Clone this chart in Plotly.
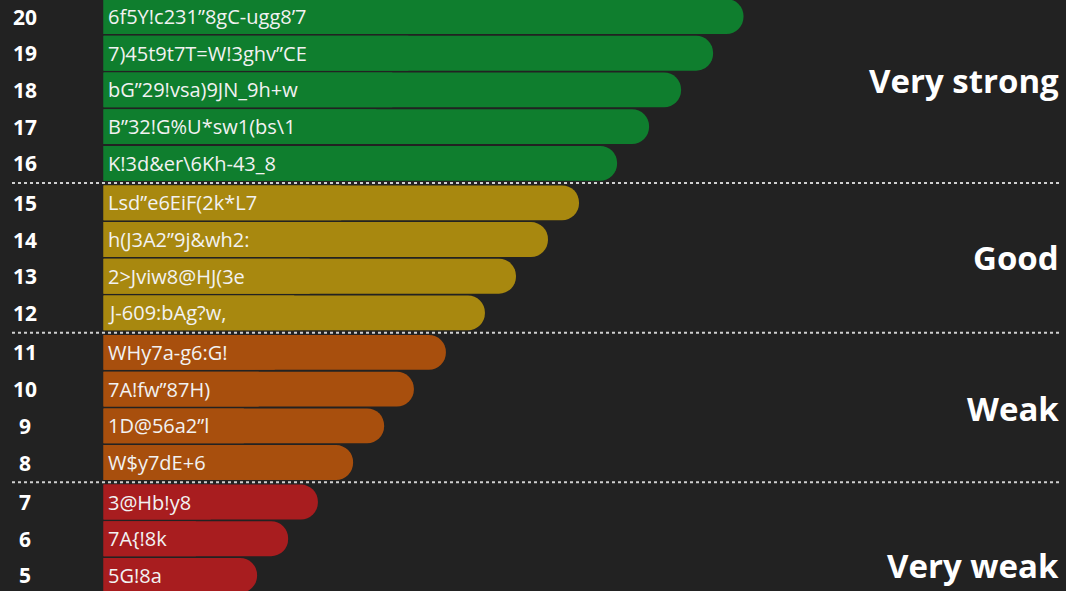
import plotly.graph_objects as go

# ---------------- data ----------------
lengths = [20, 19, 18, 17, 16, 15, 14, 13, 12, 11, 10, 9, 8, 7, 6, 5]
passwords = [
    "6f5Y!c231\u201d8gC-ugg8\u20197",
    "7)45t9t7T=W!3ghv\u201dCE",
    "bG\u201d29!vsa)9JN_9h+w",
    "B\u201d32!G%U*sw1(bs\\1",
    "K!3d&er\\6Kh-43_8",
    "Lsd\u201de6EiF(2k*L7",
    "h(J3A2\u201d9j&wh2:",
    "2>Jviw8@HJ(3e",
    "J-609:bAg?w,",
    "WHy7a-g6:G!",
    "7A!fw\u201d87H)",
    "1D@56a2\u201dl",
    "W$y7dE+6",
    "3@Hb!y8",
    "7A{!8k",
    "5G!8a",
]
scores = [20.0, 19.05, 18.05, 17.05, 16.05, 14.86, 13.89, 12.89, 11.92,
          10.70, 9.70, 8.77, 7.80, 6.70, 5.77, 4.80]
groups = ["Very strong"] * 5 + ["Good"] * 4 + ["Weak"] * 4 + ["Very weak"] * 3
group_names = ["Very strong", "Good", "Weak", "Very weak"]
group_colors = ["#0f7e2e", "#a8880f", "#a84f0d", "#a81d1f"]

# ---------------- layout constants ----------------
W, H = 1066, 591
BG = "#222222"
FONT = "Open Sans"
pitch = 36.7            # px per row
gap = 2.8               # px between group panels
x0_px = 103.5           # bar baseline pixel
px_per_unit = 32.0
x_range = [-x0_px / px_per_unit, (W - x0_px) / px_per_unit]

fig = go.Figure()
layout = dict(
    width=W, height=H, margin=dict(l=0, r=0, t=0, b=0),
    paper_bgcolor=BG, plot_bgcolor=BG, showlegend=False,
    barmode="overlay", bargap=0.05,
    font=dict(family=FONT, color="white"),
)

annotations = []
shapes = []
top_px = 0.0
first_top_val = max(lengths) + 0.45
# (pixel y, anchor) of group labels
label_pos = {"Very strong": (81, "middle"), "Good": (257, "middle"),
             "Weak": (408, "middle"), "Very weak": (590, "bottom")}

for gi, (gname, gcol) in enumerate(zip(group_names, group_colors)):
    idx = [i for i, g in enumerate(groups) if g == gname]
    ys = [lengths[i] for i in idx]
    xs = [scores[i] for i in idx]
    hi = (max(ys) + 0.5) if gi > 0 else first_top_val
    if gi < len(group_names) - 1:
        lo = min(ys) - 0.5
        bot_px = top_px + (hi - lo) * pitch
    else:
        bot_px = H
        lo = hi - (bot_px - top_px) / pitch
    sfx = "" if gi == 0 else str(gi + 1)
    xa, ya = "x" + sfx, "y" + sfx
    layout["xaxis" + sfx] = dict(range=x_range, visible=False, fixedrange=True,
                                 domain=[0, 1], anchor=ya)
    layout["yaxis" + sfx] = dict(range=[lo, hi], visible=False, fixedrange=True,
                                 domain=[max(0, 1 - bot_px / H), 1 - top_px / H],
                                 anchor=xa)
    # square base (covers left rounded corners)
    fig.add_trace(go.Bar(x=[v * 0.5 for v in xs], y=ys, orientation="h",
                         marker=dict(color=gcol, line=dict(width=0)),
                         xaxis=xa, yaxis=ya, hoverinfo="skip"))
    # rounded full bar
    fig.add_trace(go.Bar(x=xs, y=ys, orientation="h",
                         marker=dict(color=gcol, line=dict(width=0), cornerradius=17),
                         xaxis=xa, yaxis=ya, hoverinfo="skip"))
    for y, i in zip(ys, idx):
        annotations.append(dict(x=0, y=y, xref=xa, yref=ya, text=passwords[i],
                                showarrow=False, xanchor="left", yanchor="middle",
                                xshift=2, font=dict(family=FONT, size=20, color="#f2f2f2")))
        annotations.append(dict(x=25 / W, y=y, xref="paper", yref=ya, text="<b>%d</b>" % y,
                                showarrow=False, xanchor="center", yanchor="middle",
                                font=dict(family=FONT, size=21, color="white")))
    lp, lanchor = label_pos[gname]
    annotations.append(dict(x=1061 / W, y=1 - lp / H, xref="paper", yref="paper",
                            text="<b>%s</b>" % gname, showarrow=False,
                            xanchor="right", yanchor=lanchor,
                            font=dict(family=FONT, size=33, color="white")))
    if gi < len(group_names) - 1:
        sep = bot_px + gap / 2
        shapes.append(dict(type="line", xref="paper", yref="paper",
                           x0=12 / W, x1=1062 / W, y0=1 - sep / H, y1=1 - sep / H,
                           line=dict(color="#d0d0d0", width=2, dash="dot")))
    top_px = bot_px + gap

layout["annotations"] = annotations
layout["shapes"] = shapes
fig.update_layout(**layout)
fig.write_html("out.html")
